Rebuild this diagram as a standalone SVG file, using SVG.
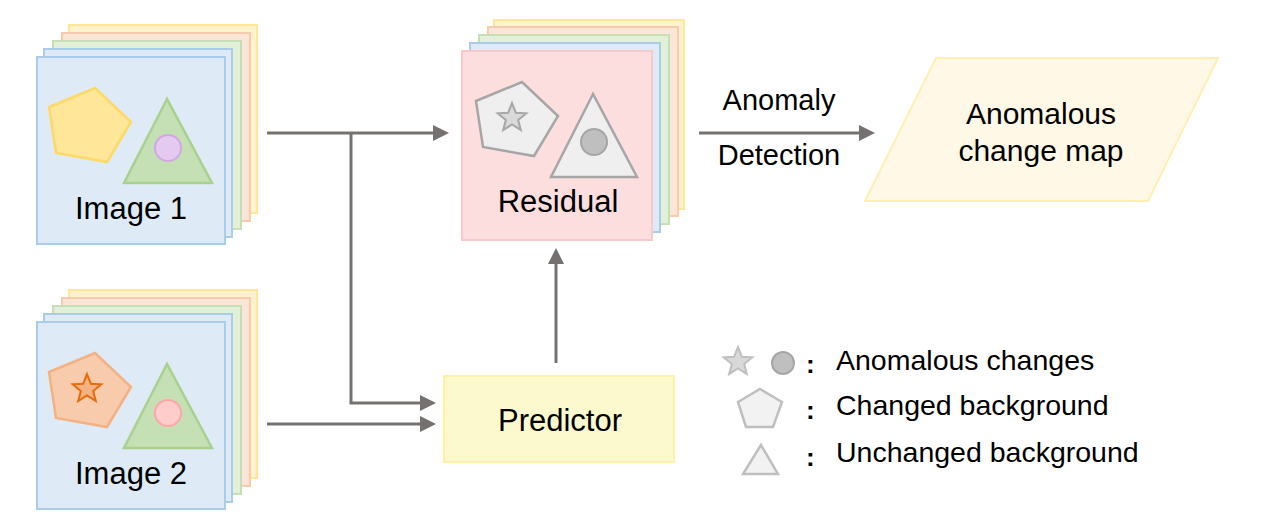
<svg xmlns="http://www.w3.org/2000/svg" width="1266" height="531" viewBox="0 0 1266 531">
<style>
text{font-family:"Liberation Sans",Arial,sans-serif;fill:#000}
.lbl{font-size:31px;text-anchor:middle}
.leg{font-size:28.5px}
.col{font-size:26px;font-weight:bold}
.c{fill:none;stroke:#767171;stroke-width:3}
.ly{fill:#FFF2CC;stroke:#FFE699;stroke-width:2}
.lo{fill:#FBE5D6;stroke:#F8CBAD;stroke-width:2}
.lg{fill:#E2F0D9;stroke:#C5E0B4;stroke-width:2}
.lb{fill:#DEEBF7;stroke:#AACCEB;stroke-width:2}
.lr{fill:#FDDEDE;stroke:#F9C9C9;stroke-width:2}
.tri{fill:#C5E0B4;stroke:#A9D18E;stroke-width:2.5}
.gshape{fill:#EFEFEF;stroke:#A6A6A6;stroke-width:2.5}
.lshape{fill:#F2F2F2;stroke:#BFBFBF;stroke-width:2.5}
</style>
<defs>
<marker id="ah" markerUnits="userSpaceOnUse" viewBox="0 0 16 16" markerWidth="16" markerHeight="16" refX="4" refY="8" orient="auto">
<path d="M0,0 L16,8 L0,16 z" fill="#767171"/>
</marker>
<polygon id="star" points="0,-15 3.82,-5.26 14.27,-4.64 6.18,2.01 8.82,12.14 0,6.5 -8.82,12.14 -6.18,2.01 -14.27,-4.64 -3.82,-5.26"/>
<polygon id="pent" points="49,107 95,88 131,122 107,162 56,153"/>
</defs>

<g id="connectors">
<path class="c" d="M267,133 H437" marker-end="url(#ah)"/>
<path class="c" d="M351,133 V403 H424" marker-end="url(#ah)"/>
<path class="c" d="M267,424 H424" marker-end="url(#ah)"/>
<path class="c" d="M556,363 V260" marker-end="url(#ah)"/>
<path class="c" d="M699,133 H863" marker-end="url(#ah)"/>
</g>

<g id="image1">
<rect class="ly" x="69" y="25" width="188" height="188"/>
<rect class="lo" x="62" y="33" width="188" height="188"/>
<rect class="lg" x="53" y="41" width="188" height="188"/>
<rect class="lb" x="44" y="49" width="188" height="188"/>
<rect class="lb" x="37" y="57" width="188" height="187"/>
<use href="#pent" fill="#FFE699" stroke="#FFD966" stroke-width="2.5"/>
<polygon class="tri" points="167,99 124,183 212,183"/>
<circle cx="168" cy="148" r="13" fill="#E4CAF0" stroke="#D5A6E6" stroke-width="2"/>
<text class="lbl" x="131" y="219">Image 1</text>
</g>

<g id="image2">
<rect class="ly" x="69" y="290" width="188" height="188"/>
<rect class="lo" x="62" y="298" width="188" height="188"/>
<rect class="lg" x="53" y="306" width="188" height="188"/>
<rect class="lb" x="44" y="314" width="188" height="188"/>
<rect class="lb" x="37" y="322" width="188" height="187"/>
<use href="#pent" transform="translate(0,265)" fill="#F8CBAD" stroke="#F4B183" stroke-width="2.5"/>
<use href="#star" transform="translate(87,389)" fill="#F4B183" stroke="#E46C0A" stroke-width="2"/>
<polygon class="tri" points="167,364 124,448 212,448"/>
<circle cx="168" cy="413" r="13" fill="#FFCCCC" stroke="#FFA7A7" stroke-width="2"/>
<text class="lbl" x="131" y="484">Image 2</text>
</g>

<g id="residual">
<rect class="ly" x="494" y="20" width="190" height="189"/>
<rect class="lo" x="488" y="27" width="190" height="189"/>
<rect class="lg" x="479" y="35" width="190" height="189"/>
<rect class="lb" x="470" y="43" width="190" height="189"/>
<rect class="lr" x="462" y="51" width="190" height="189"/>
<use href="#pent" transform="translate(427,-6)" class="gshape"/>
<use href="#star" transform="translate(512,118)" fill="#D9D9D9" stroke="#A6A6A6" stroke-width="2"/>
<polygon class="gshape" points="593,94 551,177 637,177"/>
<circle cx="594" cy="142" r="13" fill="#BFBFBF" stroke="#A6A6A6" stroke-width="2"/>
<text class="lbl" x="558" y="212">Residual</text>
</g>

<g id="predictor">
<rect x="444" y="376" width="230" height="86" fill="#FCF9CF" stroke="#FFF2A0" stroke-width="2"/>
<text class="lbl" x="560" y="431">Predictor</text>
</g>

<g id="anomaly-label">
<text x="779" y="110" font-size="29" text-anchor="middle">Anomaly</text>
<text x="779" y="165" font-size="29" text-anchor="middle">Detection</text>
</g>

<g id="change-map">
<polygon points="936,58 1218,58 1148,201 865,201" fill="#FFF8E7" stroke="#FFEFB0" stroke-width="2"/>
<text x="1041" y="124" font-size="30" text-anchor="middle">Anomalous</text>
<text x="1041" y="161" font-size="30" text-anchor="middle">change map</text>
</g>

<g id="legend">
<use href="#star" transform="translate(738,362)" fill="#D9D9D9" stroke="#BFBFBF" stroke-width="2"/>
<circle cx="783" cy="363" r="11" fill="#BFBFBF" stroke="#A6A6A6" stroke-width="2"/>
<polygon class="lshape" points="760,389 782,402 773,427 746,427 738,402"/>
<polygon class="lshape" points="761,445 743,474 778,474"/>
<text class="col" x="806" y="373">:</text>
<text class="col" x="806" y="419">:</text>
<text class="col" x="806" y="466">:</text>
<text class="leg" x="836" y="370">Anomalous changes</text>
<text class="leg" x="836" y="415">Changed background</text>
<text class="leg" x="836" y="462">Unchanged background</text>
</g>
</svg>
